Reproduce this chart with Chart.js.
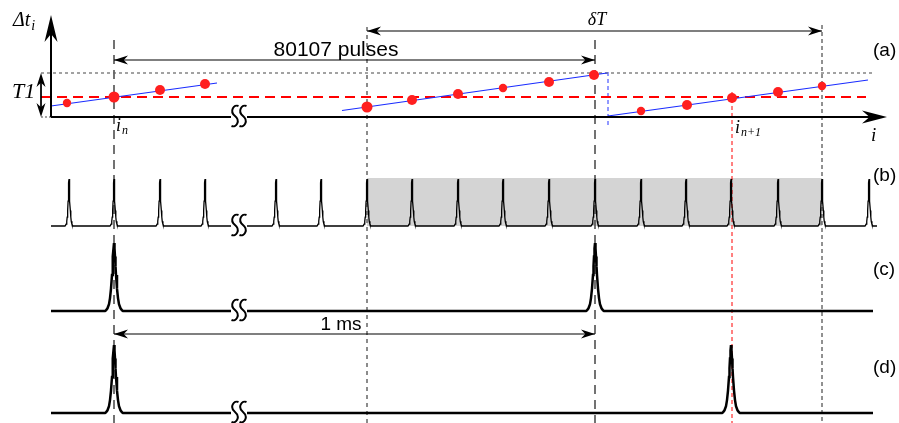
<!DOCTYPE html>
<html>
<head>
<meta charset="utf-8">
<script src="https://cdn.jsdelivr.net/npm/chart.js@4.4.1/dist/chart.umd.min.js"></script>
<style>
  html, body { margin: 0; padding: 0; background: #fff; }
  #chart { display: block; }
</style>
</head>
<body>
<canvas id="chart" width="899" height="423"></canvas>
<script>
// Figure units: x runs along the pulse index i, y runs down the page (0 at top)
const W = 899, H = 423;

// (a) delta t_i samples on the three sawtooth segments
const dotsX1 = [67, 114, 160, 205];
const dotsY1 = [103, 97, 90, 84];
const dotsX2 = [367, 412, 458, 503, 549, 594];
const dotsY2 = [107, 100, 94, 88, 82, 75];
const dotsX3 = [641, 687, 732, 778, 822];
const dotsY3 = [111, 105, 98, 92, 86];
const fitX1 = [51, 217], fitY1 = [106, 83];
const fitX2 = [342, 607], fitY2 = [110.5, 73];
const fitX3 = [608, 868], fitY3 = [116, 80];

// levels in panel (a)
const axisA = 117, levelT1 = 73, levelMean = 97;

// (b) full pulse train, (c) and (d) picked pulses
const trainPulses = [69, 114, 160, 205, 276, 321, 367, 412, 458, 503, 549, 595, 641, 686, 731, 778, 822, 869];
const pulsesC = [114, 595];
const pulsesD = [114, 731];
const baseB = 226, peakB = 179;
const baseC = 311, peakC = 243;
const baseD = 413, peakD = 345;
const gateWindow = [367, 822];

// pulse profile: [offset, relative height]
const pulseProfile = [[0, 1], [0.5, 0.92], [1, 0.8], [1.5, 0.66], [2, 0.53], [3, 0.33], [4, 0.19], [5, 0.1], [6.5, 0.04], [8, 0.01], [9, 0]];

// marker positions along i
const markIn = 114, markStart = 367, markEnd = 595, markNext = 732, markDelta = 822, markWrap = 608;
const breakX = 239;

// Functions
function toPoints(xs, ys) {
    return xs.map((x, k) => ({ x: x, y: ys[k] }));
}

function pulseTrace(x0, x1, pulses, base, peak, scale) {
    const pts = [{ x: x0, y: base }];
    const amp = base - peak;
    pulses.forEach(p => {
        pulseProfile.slice().reverse().forEach(([d, h]) => pts.push({ x: p - d * scale, y: base - h * amp }));
        pulseProfile.slice(1).forEach(([d, h]) => pts.push({ x: p + d * scale, y: base - h * amp }));
    });
    pts.push({ x: x1, y: base });
    return pts;
}

function line(data, color, width, dash, order) {
    return {
        data: data, showLine: true, pointRadius: 0, borderColor: color,
        borderWidth: width, borderDash: dash || [], fill: false, tension: 0, order: order || 0
    };
}

function vline(x, y0, y1, color, width, dash) {
    return line([{ x: x, y: y0 }, { x: x, y: y1 }], color, width, dash, 5);
}

function hline(x0, x1, y, color, width, dash, order) {
    return line([{ x: x0, y: y }, { x: x1, y: y }], color, width, dash, order);
}

const datasets = [
    // gated window in (b)
    {
        data: [{ x: gateWindow[0], y: peakB - 1 }, { x: gateWindow[1], y: peakB - 1 }],
        showLine: true, pointRadius: 0, borderWidth: 0, borderColor: 'rgba(0,0,0,0)',
        backgroundColor: '#d4d4d4', fill: { value: baseB }, order: 10
    },
    // vertical markers
    vline(markIn, 40, H, '#444', 1.5, [9, 6]),
    vline(markStart, 27, H, '#666', 1.5, [4, 4]),
    vline(markEnd, 40, H, '#444', 1.5, [9, 6]),
    vline(markDelta, 25, H, '#222', 1, [4, 3]),
    vline(markNext, 92, H, '#ff0000', 1, [4, 3]),
    vline(markWrap, 72, 125, '#2233ff', 1, [4, 3]),
    // panel (a) guides
    hline(41, 875, levelT1, '#666', 1.2, [3, 3], 4),
    hline(41, 51, axisA, '#666', 1.2, [2, 2], 4),
    hline(41, 866, levelMean, '#ff0000', 2, [10, 6], 3),
    // axes and arrows
    line([{ x: 51, y: axisA }, { x: 51, y: 20 }], '#000', 2),
    line([{ x: 51, y: axisA }, { x: 880, y: axisA }], '#000', 2),
    line([{ x: 41, y: levelT1 + 4 }, { x: 41, y: axisA - 4 }], '#000', 1),
    hline(markIn, markEnd, 60, '#000', 1.2),
    hline(markStart, markDelta, 31, '#000', 1.2),
    hline(markIn, markEnd, 334, '#000', 1.2),
    // fitted sawtooth
    line(toPoints(fitX1, fitY1), '#1a2cff', 1.2),
    line(toPoints(fitX2, fitY2), '#1a2cff', 1.2),
    line(toPoints(fitX3, fitY3), '#1a2cff', 1.2),
    // samples
    {
        data: toPoints(dotsX1.concat(dotsX2, dotsX3), dotsY1.concat(dotsY2, dotsY3)),
        showLine: false, backgroundColor: '#ff1f1f', borderWidth: 0,
        pointRadius: [4.2, 5.5, 5, 5, 5.5, 5, 5, 4.2, 5, 5, 4.2, 5, 5, 5, 4.2], order: -1
    },
    // pulse traces
    line(pulseTrace(51, 877, trainPulses, baseB, peakB, 0.45), '#000', 1.3, [], 1),
    line(pulseTrace(51, 873, pulsesC, baseC, peakC, 1), '#000', 2.5, [], 1),
    line(pulseTrace(51, 873, pulsesD, baseD, peakD, 1), '#000', 2.5, [], 1)
];

function arrowHead(ctx, tx, ty, fx, fy, len, hw) {
    const d = Math.hypot(tx - fx, ty - fy);
    const ux = (tx - fx) / d, uy = (ty - fy) / d;
    const nx = -uy, ny = ux;
    ctx.beginPath();
    ctx.moveTo(tx, ty);
    ctx.lineTo(tx - ux * len + nx * hw, ty - uy * len + ny * hw);
    ctx.lineTo(tx - ux * len * 0.7, ty - uy * len * 0.7);
    ctx.lineTo(tx - ux * len - nx * hw, ty - uy * len - ny * hw);
    ctx.closePath();
    ctx.fill();
}

function breakMark(ctx, cx, cy) {
    ctx.fillStyle = '#fff';
    ctx.fillRect(cx - 8, cy - 3, 16, 6);
    ctx.strokeStyle = '#000';
    ctx.lineWidth = 2;
    [-4, 4].forEach(off => {
        const x = cx + off, y = cy - 1;
        ctx.beginPath();
        ctx.moveTo(x + 3.5, y - 10);
        ctx.bezierCurveTo(x - 1, y - 12, x - 6, y - 5, x, y);
        ctx.bezierCurveTo(x + 6, y + 5, x + 1, y + 12, x - 3.5, y + 10);
        ctx.stroke();
    });
}

function text(ctx, str, x, y, font, align) {
    ctx.font = font;
    ctx.textAlign = align || 'left';
    ctx.fillText(str, x, y);
    return x + ctx.measureText(str).width;
}

const decorations = {
    id: 'decorations',
    afterDatasetsDraw(chart) {
        const ctx = chart.ctx;
        const sx = chart.scales.x, sy = chart.scales.y;
        const px = v => sx.getPixelForValue(v);
        const py = v => sy.getPixelForValue(v);
        ctx.save();

        [axisA, baseB, baseC, baseD].forEach(level => breakMark(ctx, px(breakX), py(level)));

        ctx.fillStyle = '#000';
        arrowHead(ctx, px(51), py(15), px(51), py(axisA), 27, 6.5);
        arrowHead(ctx, px(887), py(axisA), px(51), py(axisA), 25, 6.5);
        arrowHead(ctx, px(41), py(levelT1), px(41), py(axisA), 14, 4.5);
        arrowHead(ctx, px(41), py(axisA), px(41), py(levelT1), 14, 4.5);
        [[60, markIn, markEnd], [31, markStart, markDelta], [334, markIn, markEnd]].forEach(([y, a, b]) => {
            arrowHead(ctx, px(a), py(y), px(b), py(y), 14, 4.5);
            arrowHead(ctx, px(b), py(y), px(a), py(y), 14, 4.5);
        });

        ctx.textBaseline = 'alphabetic';
        const sans = '"Liberation Sans", Arial, sans-serif';
        const serif = '"Liberation Serif", "Times New Roman", serif';
        text(ctx, '80107 pulses', px(336), py(56), '21px ' + sans, 'center');
        text(ctx, '1 ms', px(341), py(330), '19px ' + sans, 'center');
        ctx.textBaseline = 'middle';
        text(ctx, '(a)', px(873), py(51), '19px ' + sans);
        text(ctx, '(b)', px(873), py(176), '19px ' + sans);
        text(ctx, '(c)', px(873), py(270), '19px ' + sans);
        text(ctx, '(d)', px(873), py(368), '19px ' + sans);
        ctx.textBaseline = 'alphabetic';
        let x = text(ctx, '\u0394t', px(13), py(26), 'italic 20px ' + serif);
        text(ctx, 'i', x + 1, py(30), 'italic 14px ' + serif);
        text(ctx, 'T1', px(12), py(98), 'italic 22px ' + serif);
        text(ctx, '\u03b4T', px(597), py(25), 'italic 18px ' + serif, 'center');
        x = text(ctx, 'i', px(116), py(131), 'italic 18px ' + serif);
        text(ctx, 'n', x + 1, py(134), 'italic 12px ' + serif);
        x = text(ctx, 'i', px(735), py(133), 'italic 18px ' + serif);
        text(ctx, 'n+1', x + 1, py(136), 'italic 12px ' + serif);
        text(ctx, 'i', px(871), py(141), 'italic 19px ' + serif);
        ctx.restore();
    }
};

const ctx = document.getElementById('chart');

new Chart(ctx, {
    type: 'scatter',
    data: { datasets: datasets },
    options: {
        responsive: false,
        animation: false,
        events: [],
        layout: { padding: 0, autoPadding: false },
        scales: {
            x: { type: 'linear', min: 0, max: W, display: false },
            y: { type: 'linear', min: 0, max: H, reverse: true, display: false }
        },
        plugins: { legend: { display: false }, tooltip: { enabled: false } }
    },
    plugins: [decorations]
});
</script>
</body>
</html>
